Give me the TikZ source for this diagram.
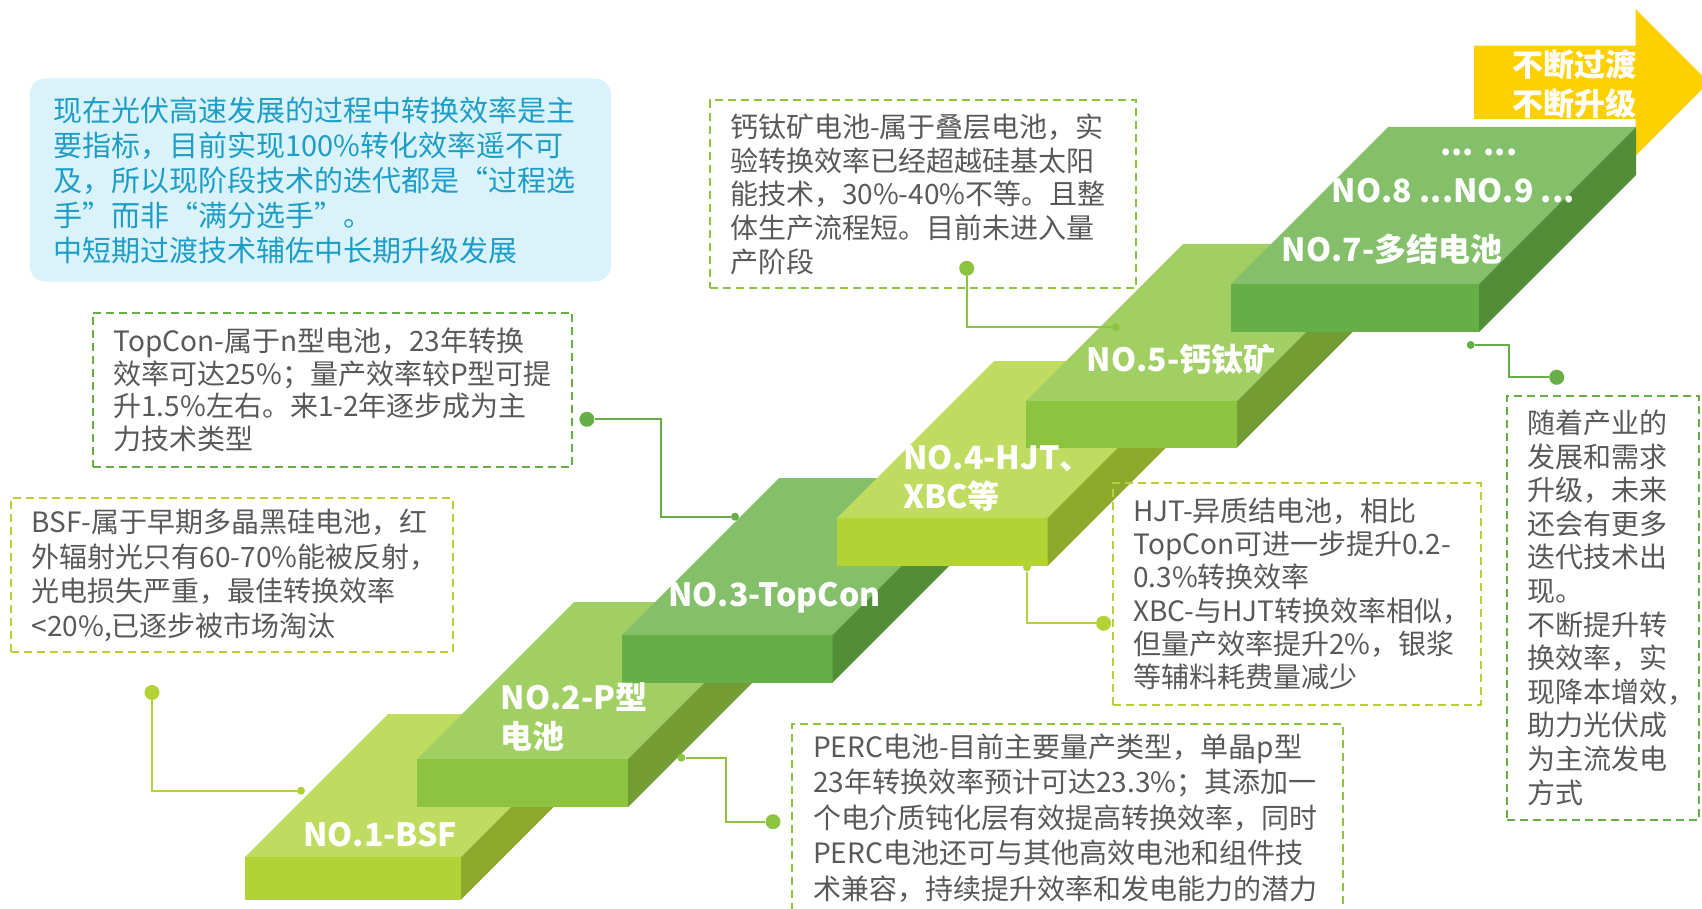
\documentclass[tikz,border=0pt]{standalone}
\usepackage{fontspec}
\newfontfamily\cjk{Noto Sans CJK SC}
\usetikzlibrary{positioning}
\exhyphenpenalty=10000
\hyphenpenalty=10000
% slab colours: lime / leaf / grass, each with top, front and side faces
\definecolor{limetop}{RGB}{192,220,96}
\definecolor{limefront}{RGB}{178,210,53}
\definecolor{limeside}{RGB}{143,169,45}
\definecolor{leaftop}{RGB}{162,207,100}
\definecolor{leaffront}{RGB}{140,196,63}
\definecolor{leafside}{RGB}{115,157,50}
\definecolor{grasstop}{RGB}{132,191,106}
\definecolor{grassfront}{RGB}{102,175,70}
\definecolor{grassside}{RGB}{82,142,56}
\definecolor{arrowgold}{RGB}{255,208,0}
\definecolor{notegray}{RGB}{89,89,89}
\definecolor{introblue}{RGB}{30,157,198}
\definecolor{introfill}{RGB}{218,243,251}

\begin{document}
\begin{tikzpicture}[
    x=1pt, y=-1pt,
    % ── Callout boxes ──
    note/.style={draw=#1, dash pattern=on 8pt off 5pt, line width=2pt,
                 text=notegray, align=left, anchor=north west,
                 outer sep=0pt, inner ysep=2pt},
    notefont/.style={font=\cjk\fontsize{28}{#1}\selectfont},
    intro/.style={fill=introfill, rounded corners=16pt, text=introblue,
                  align=left, anchor=north west, outer sep=0pt, inner ysep=2pt,
                  font=\cjk\fontsize{29}{35}\selectfont},
    % ── Step labels ──
    steplabel/.style={text=white, inner sep=0pt, align=left, anchor=base west,
                      font=\cjk\bfseries\fontsize{32}{39}\selectfont},
    % ── Connectors ──
    bigdot/.style={circle, fill=#1, inner sep=0pt, minimum size=15pt},
    tipdot/.style={circle, fill=#1, inner sep=0pt, minimum size=8pt},
    link/.style={draw=#1, line width=2pt}
]
\useasboundingbox (0,0) rectangle (1702,909);

% ═══ Arrow ═══
\fill[arrowgold] (1474,45.7) -- (1635.7,45.7) -- (1635.7,9) -- (1709,82.3)
  -- (1635.7,155.7) -- (1635.7,119) -- (1474,119) -- cycle;
\node[text=white, inner sep=0pt, align=right, anchor=north east,
      font=\cjk\bfseries\fontsize{31}{39}\selectfont] (motto) at (1637,50)
  {不断过渡\\不断升级};

% ═══ Steps (front x0/y0/x1/y1, depth, colour) ═══
\foreach \xa/\ya/\xb/\yb/\dd/\col in {245/857/461/899.5/143/lime,
    417/759/628/807/157/leaf, 622/635/832.5/682.5/157/grass,
    837/518/1047.5/566/157/lime, 1026/401/1237/447.5/157/leaf,
    1231/284/1479/332/157/grass} {
  \fill[\col top] (\xa,\ya) -- (\xb,\ya) -- (\xb+\dd,\ya-\dd) -- (\xa+\dd,\ya-\dd) -- cycle;
  \fill[\col front] (\xa,\ya) rectangle (\xb,\yb);
  \fill[\col side] (\xb,\ya) -- (\xb,\yb) -- (\xb+\dd,\yb-\dd) -- (\xb+\dd,\ya-\dd) -- cycle;
}

% two-line labels sit on the baseline of their last line
\node[steplabel] (no1) at (303,846.7) {NO.1-BSF};
\node[steplabel] (no2) at (500.5,748.5) {NO.2-P型\\电池};
\node[steplabel] (no3) at (668,606.7) {NO.3-TopCon};
\node[steplabel] (no4) at (903,508.3) {NO.4-HJT、\\XBC等};
\node[steplabel] (no5) at (1086.7,371.7) {NO.5-钙钛矿};
\node[steplabel] (no7) at (1281.7,261.7) {NO.7-多结电池};
\node[steplabel] (no8) at (1331.7,202.7) {NO.8 ...NO.9 ...};
\node[steplabel] (more) at (1440,155.5) {... ...};

% ═══ Intro ═══
\node[intro, text width=534pt, inner xsep=23.7pt, minimum height=203.4pt]
  (lead) at (29.7,78.3)
  {现在光伏高速发展的过程中转换效率是主\\
   要指标，目前实现100\%转化效率遥不可\\
   及，所以现阶段技术的迭代都是“过程选\\
   手”而非“满分选手”。\\
   中短期过渡技术辅佐中长期升级发展};

% ═══ Callouts ═══
\node[note=limefront, notefont=34.5, text width=400.3pt, inner xsep=20.7pt,
      minimum height=154pt] (bsf) at (11,498.3)
  {BSF-属于早期多晶黑硅电池，红\\
   外辐射光只有60-70\%能被反射，\\
   光电损失严重，最佳转换效率\\
   <20\%,已逐步被市场淘汰};
\node[note=grassfront, notefont=32.5, text width=438.3pt, inner xsep=20.7pt,
      minimum height=154pt] (topcon) at (92.7,312.7)
  {TopCon-属于n型电池，23年转换\\
   效率可达25\%；量产效率较P型可提\\
   升1.5\%左右。来1-2年逐步成为主\\
   力技术类型};
\node[note=leaffront, notefont=33.75, text width=386pt, inner xsep=20pt,
      minimum height=188.3pt] (pero) at (710,100)
  {钙钛矿电池-属于叠层电池，实\\
   验转换效率已经超越硅基太阳\\
   能技术，30\%-40\%不等。且整\\
   体生产流程短。目前未进入量\\
   产阶段};
\node[note=limefront, notefont=33.3, text width=327.4pt, inner xsep=20pt,
      minimum height=221.2pt] (hjt) at (1113.3,483.3)
  {HJT-异质结电池，相比\\
   TopCon可进一步提升0.2-\\
   0.3\%转换效率\\
   XBC-与HJT转换效率相似，\\
   但量产效率提升2\%，银浆\\
   等辅料耗费量减少};
\node[note=leaffront, notefont=35.5, text width=508.8pt, inner xsep=21pt,
      minimum height=188pt] (perc) at (792.2,724)
  {PERC电池-目前主要量产类型，单晶p型\\
   23年转换效率预计可达23.3\%；其添加一\\
   个电介质钝化层有效提高转换效率，同时\\
   PERC电池还可与其他高效电池和组件技\\
   术兼容，持续提升效率和发电能力的潜力};
\node[note=grassfront, notefont=33.6, text width=151.4pt, inner xsep=20.3pt,
      minimum height=423.9pt] (future) at (1507,395.7)
  {随着产业的\\发展和需求\\升级，未来\\还会有更多\\迭代技术出\\现。\\
   不断提升转\\换效率，实\\现降本增效，\\助力光伏成\\为主流发电\\方式};

% ═══ Connectors ═══
\node[bigdot=limefront] (bsfdot) at (152,692.5) {};
\node[tipdot=limefront] (bsftip) at (301,790.7) {};
\draw[link=limefront] (bsfdot) |- (bsftip);

\node[bigdot=grassfront] (tcdot) at (586.9,419.3) {};
\node[tipdot=grassfront] (tctip) at (735,516.7) {};
\coordinate (tcbend) at (661.4,419.3);
\draw[link=grassfront] (tcdot) -- (tcbend) |- (tctip);

\node[bigdot=leaffront] (pvdot) at (966.7,268.3) {};
\node[tipdot=leaffront] (pvtip) at (1115.7,327.3) {};
\draw[link=leaffront] (pvdot) |- (pvtip);

\node[tipdot=limefront] (hjtip) at (1027,567.3) {};
\node[bigdot=limefront] (hjdot) at (1103.6,623.3) {};
\draw[link=limefront] (hjtip) |- (hjdot);

\node[tipdot=leaffront] (pctip) at (681.3,757.7) {};
\node[bigdot=leaffront] (pcdot) at (773,821.7) {};
\coordinate (pcbend) at (726.3,757.7);
\draw[link=leaffront] (pctip) -- (pcbend) |- (pcdot);

\node[tipdot=grassfront] (rttip) at (1470.7,345) {};
\node[bigdot=grassfront] (rtdot) at (1556.7,377.3) {};
\coordinate (rtbend) at (1509.3,345);
\draw[link=grassfront] (rttip) -- (rtbend) |- (rtdot);

\end{tikzpicture}
\end{document}
